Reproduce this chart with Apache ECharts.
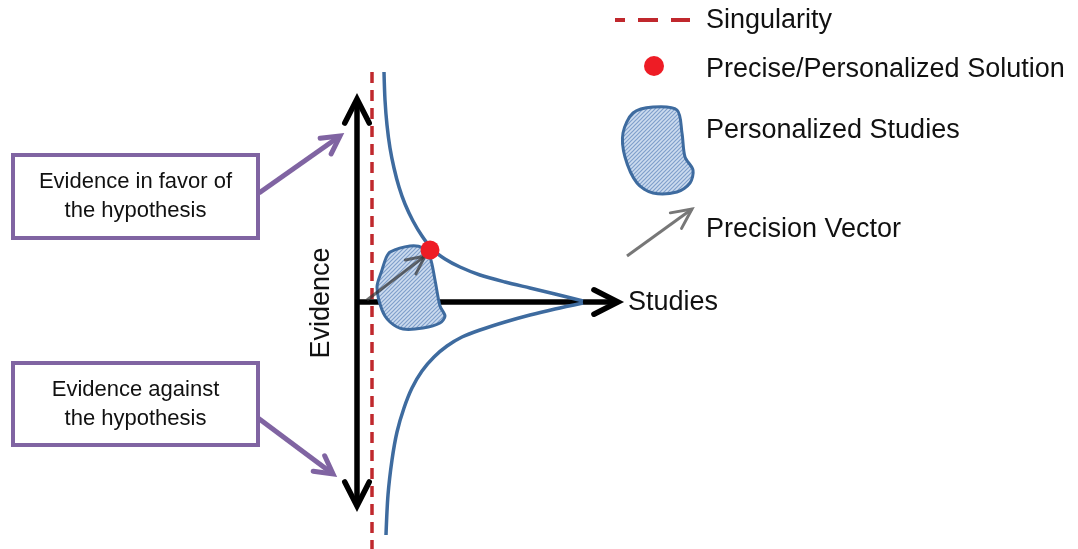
<!DOCTYPE html>
<html><head><meta charset="utf-8">
<script src="https://cdn.jsdelivr.net/npm/echarts@6/dist/echarts.min.js"></script>
<style>html,body{margin:0;padding:0;background:#fff}#c{width:1078px;height:549px}</style>
</head><body><div id="c"></div>
<script>
// ---- diagram data (in picture units: x to the right, y downward) ----
const upperCurve = [[384,72],[385,100],[387,125],[390,148],[394,168],[399,187],[405,204],[413,221],[422,236],[432,249],[445,259],[460,267],[480,275],[505,282],[530,288],[555,294],[583,301]];
const lowerCurve = [[583,303],[555,309],[530,315],[505,322],[480,330],[462,337],[447,346],[434,357],[422,371],[412,388],[404,408],[397,432],[392,460],[388,495],[386,535]];
const singularityLine = [[372,72],[372,549]];
const evidenceAxis = [[357,99,357,506]];
const studiesAxis = [[357,302,618,302]];
const solutionPoint = [[430,250]];
const studiesBlob = [[390,252],[410,246],[423,248],[430,257],[435,280],[440,306],[445,316],[440,323],[423,328],[403,329],[390,322],[382,310],[377,287],[382,270],[386,258]];
const precisionVector = [[367,300,425,256]];
const hypothesisBoxes = [[13,155,258,238],[13,363,258,445]];
const boxArrows = [[259,193,340,136],[258,418,333,474]];
const boxLabels = [["Evidence in favor of","the hypothesis"],["Evidence against","the hypothesis"]];
// legend
const legendDash = [[615,20],[690,20]];
const legendPoint = [[654,66]];
const legendBlob = [[633,113],[653,107],[677,110],[682,133],[685,157],[693,170],[690,183],[677,192],[653,193],[637,183],[625,157],[623,133]];
const legendVector = [[627,256,692,209]];
const legendLabels = ["Singularity","Precise/Personalized Solution","Personalized Studies","Precision Vector"];
const legendLabelY = [21,70,131,230];

const FONT = '"Liberation Sans", Arial, sans-serif';

// hatch pattern
const pc = document.createElement('canvas'); pc.width = 4; pc.height = 4;
const g = pc.getContext('2d');
g.fillStyle = '#cddcef'; g.fillRect(0,0,4,4);
g.strokeStyle = '#7f9fcb'; g.lineWidth = 1.2;
g.beginPath();
g.moveTo(0,4); g.lineTo(4,0);
g.moveTo(-2,2); g.lineTo(2,-2);
g.moveTo(2,6); g.lineTo(6,2);
g.stroke();
const hatch = {image: pc, repeat: 'repeat'};

function arrowSeries(data, color, width, armLen, armAng, both, opacity, z) {
  return {
    type: 'custom', coordinateSystem: 'cartesian2d', z: z, silent: true,
    data: data,
    renderItem: function (params, api) {
      const a = api.coord([api.value(0), api.value(1)]);
      const b = api.coord([api.value(2), api.value(3)]);
      const ang = Math.atan2(b[1]-a[1], b[0]-a[0]);
      function head(tip, dir) {
        return {
          type: 'polyline',
          shape: {points: [
            [tip[0] - armLen*Math.cos(dir-armAng), tip[1] - armLen*Math.sin(dir-armAng)],
            tip,
            [tip[0] - armLen*Math.cos(dir+armAng), tip[1] - armLen*Math.sin(dir+armAng)]
          ]},
          style: {stroke: color, lineWidth: width, fill: null, lineJoin: 'miter', lineCap: 'round', opacity: opacity}
        };
      }
      const children = [
        {type: 'line', shape: {x1: a[0], y1: a[1], x2: b[0], y2: b[1]}, style: {stroke: color, lineWidth: width, opacity: opacity}},
        head(b, ang)
      ];
      if (both) children.push(head(a, ang + Math.PI));
      return {type: 'group', children: children};
    }
  };
}

function blobSeries(pts, z) {
  return {
    type: 'custom', coordinateSystem: 'cartesian2d', z: z, silent: true,
    data: [0],
    renderItem: function (params, api) {
      return {type: 'polygon', shape: {points: pts.map(p => api.coord(p)), smooth: 0.3},
        style: {fill: hatch, stroke: '#3e6b9f', lineWidth: 3}};
    }
  };
}

const boxSeries = {
  type: 'custom', coordinateSystem: 'cartesian2d', z: 3, silent: true,
  data: hypothesisBoxes.map((b, i) => [b[0], b[1], b[2], b[3], i]),
  renderItem: function (params, api) {
    const p1 = api.coord([api.value(0), api.value(1)]);
    const p2 = api.coord([api.value(2), api.value(3)]);
    const lines = boxLabels[api.value(4)];
    const cx = (p1[0]+p2[0])/2, cy = (p1[1]+p2[1])/2;
    return {type: 'group', children: [
      {type: 'rect', shape: {x: p1[0], y: p1[1], width: p2[0]-p1[0], height: p2[1]-p1[1]},
        style: {fill: '#fff', stroke: '#8064a2', lineWidth: 4}},
      {type: 'text', style: {text: lines[0], x: cx, y: cy - 14.5, align: 'center', verticalAlign: 'middle', fontSize: 22, fontFamily: FONT, fill: '#111'}},
      {type: 'text', style: {text: lines[1], x: cx, y: cy + 14.5, align: 'center', verticalAlign: 'middle', fontSize: 22, fontFamily: FONT, fill: '#111'}}
    ]};
  }
};

const chart = echarts.init(document.getElementById('c'));
chart.setOption({
  animation: false,
  backgroundColor: '#fff',
  grid: {left: 0, right: 0, top: 0, bottom: 0},
  xAxis: {type: 'value', min: 0, max: 1078, show: false},
  yAxis: {type: 'value', min: 0, max: 549, inverse: true, show: false},
  series: [
    arrowSeries(evidenceAxis, '#000', 5.5, 27, 0.47, true, 1, 2),
    arrowSeries(studiesAxis, '#000', 5.5, 27, 0.47, false, 1, 2),
    {type: 'line', data: singularityLine, symbol: 'none', z: 3, silent: true,
      lineStyle: {color: '#c0282d', width: 3.5, type: [11, 7]}},
    {type: 'line', data: upperCurve, symbol: 'none', smooth: 0.3, z: 4, silent: true,
      lineStyle: {color: '#3e6b9f', width: 3.5}},
    {type: 'line', data: lowerCurve, symbol: 'none', smooth: 0.3, z: 4, silent: true,
      lineStyle: {color: '#3e6b9f', width: 3.5}},
    blobSeries(studiesBlob, 5),
    arrowSeries(precisionVector, '#333', 3, 20, 0.45, false, 0.7, 6),
    {type: 'scatter', data: solutionPoint, symbol: 'circle', symbolSize: 19, z: 7, silent: true,
      itemStyle: {color: '#ee1c25', opacity: 1}},
    boxSeries,
    arrowSeries(boxArrows, '#8064a2', 5, 20, 0.5, false, 1, 3),
    // legend
    {type: 'line', data: legendDash, symbol: 'none', z: 3, silent: true,
      lineStyle: {color: '#c0282d', width: 4, type: [20, 13], dashOffset: 10}},
    {type: 'scatter', data: legendPoint, symbol: 'circle', symbolSize: 20, z: 7, silent: true,
      itemStyle: {color: '#ee1c25', opacity: 1}},
    blobSeries(legendBlob, 5),
    arrowSeries(legendVector, '#777', 3, 22, 0.45, false, 1, 6)
  ],
  graphic: [
    ...legendLabels.map((t, i) => ({type: 'text', x: 706, y: legendLabelY[i],
      style: {text: t, fontSize: 27, fontFamily: FONT, fill: '#111', verticalAlign: 'middle'}})),
    {type: 'text', x: 322, y: 303, rotation: Math.PI/2,
      style: {text: 'Evidence', fontSize: 27, fontFamily: FONT, fill: '#111', align: 'center', verticalAlign: 'middle'}},
    {type: 'text', x: 628, y: 303, style: {text: 'Studies', fontSize: 27, fontFamily: FONT, fill: '#111', verticalAlign: 'middle'}}
  ]
});
</script></body></html>
